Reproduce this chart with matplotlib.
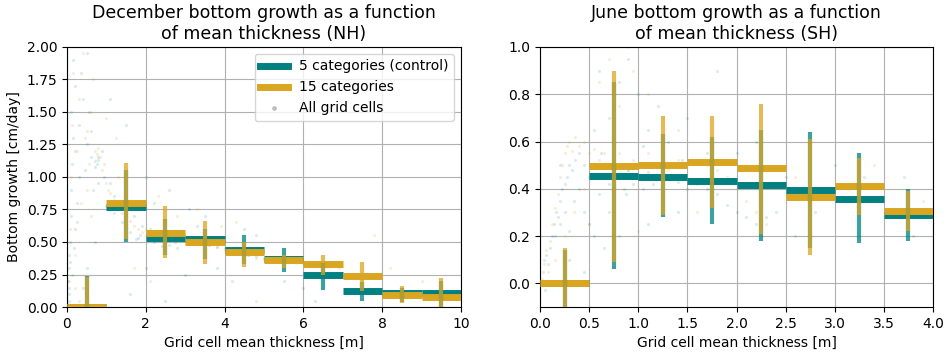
import matplotlib.pyplot as plt
from matplotlib.lines import Line2D

# --- Bin edges (x) for each hemisphere
nh_edges = [0, 1, 2, 3, 4, 5, 6, 7, 8, 9, 10]
sh_edges = [0, 0.5, 1.0, 1.5, 2.0, 2.5, 3.0, 3.5, 4.0]

# --- NH (December): bin means and error ranges
nh_ctrl_mean = [0.00, 0.77, 0.53, 0.52, 0.44, 0.37, 0.25, 0.12, 0.11, 0.11]
nh_ctrl_lo   = [0.00, 0.50, 0.40, 0.37, 0.33, 0.27, 0.13, 0.05, 0.04, 0.00]
nh_ctrl_hi   = [0.24, 1.05, 0.68, 0.60, 0.55, 0.45, 0.34, 0.19, 0.15, 0.20]
nh_c15_mean  = [0.00, 0.80, 0.57, 0.50, 0.42, 0.36, 0.33, 0.24, 0.09, 0.08]
nh_c15_lo    = [0.00, 0.52, 0.38, 0.33, 0.31, 0.30, 0.25, 0.12, 0.03, 0.00]
nh_c15_hi    = [0.23, 1.11, 0.78, 0.66, 0.50, 0.40, 0.40, 0.35, 0.16, 0.22]

# --- SH (June): bin means and error ranges
sh_ctrl_mean = [0.00, 0.455, 0.45, 0.435, 0.415, 0.395, 0.355, 0.29]
sh_ctrl_lo   = [-0.10, 0.06, 0.28, 0.25, 0.18, 0.15, 0.17, 0.18]
sh_ctrl_hi   = [0.14, 0.85, 0.63, 0.62, 0.65, 0.64, 0.55, 0.40]
sh_c15_mean  = [0.00, 0.495, 0.50, 0.515, 0.49, 0.365, 0.41, 0.305]
sh_c15_lo    = [-0.10, 0.09, 0.29, 0.32, 0.21, 0.12, 0.29, 0.22]
sh_c15_hi    = [0.15, 0.90, 0.71, 0.71, 0.76, 0.61, 0.53, 0.39]

# --- grid cell clouds
nh_ctrl_x = [0.05, 0.05, 0.08, 0.1, 0.1, 0.12, 0.15, 0.1, 0.2, 0.15, 0.05, 0.03, 0.06, 0.2, 0.25,
             0.3, 0.2, 0.3, 0.4, 0.35, 0.5, 0.5, 0.45, 0.6, 0.7, 0.75, 0.8, 0.72, 0.78, 0.9,
             0.6, 0.55, 0.65, 0.8, 0.95, 1.1, 1.2, 1.3, 1.0, 1.2, 1.4, 1.6, 1.8, 1.5, 1.7,
             1.9, 2.1, 2.3, 2.5, 2.7, 2.9, 2.2, 2.4, 2.6, 2.8, 3.0, 3.2, 3.4, 3.6, 3.8,
             4.0, 4.2, 4.4, 4.6, 4.8, 5.0, 5.2, 5.4, 2.2, 2.6, 3.1, 3.5, 1.5, 1.1, 2.0,
             3.0, 4.2, 1.6, 2.5, 4.5, 6.0, 6.3, 0.5, 0.4, 0.7, 3.8, 5.5, 4.8, 3.3, 2.0,
             7.5, 9.5, 0.02, 0.04, 0.08, 0.12, 0.18, 0.25, 1.75, 1.85, 2.15, 2.35, 2.75, 3.15]
nh_ctrl_y = [0.1, 0.3, 0.5, 0.7, 0.9, 1.1, 1.3, 1.5, 1.7, 1.9, 0.05, 0.2, 0.4, 0.6, 0.8,
             1.0, 1.2, 1.4, 1.6, 1.8, 1.95, 1.25, 1.05, 1.15, 1.12, 1.1, 1.15, 1.08, 1.13, 1.2,
             1.35, 1.5, 0.9, 0.95, 1.0, 0.95, 0.85, 0.8, 0.78, 0.72, 0.65, 0.58, 0.53, 0.75, 0.7,
             0.62, 0.6, 0.57, 0.55, 0.54, 0.52, 0.5, 0.47, 0.48, 0.45, 0.53, 0.5, 0.5, 0.48, 0.46,
             0.45, 0.43, 0.42, 0.4, 0.39, 0.38, 0.36, 0.35, 0.8, 0.9, 0.75, 0.7, 1.4, 1.6, 0.3,
             0.25, 0.2, 0.1, 0.05, 0.6, 0.15, 0.05, 0.3, 0.15, 0.5, 0.3, 0.2, 0.55, 0.62, 1.0,
             0.2, 0.1, 0.02, 0.15, 0.35, 0.25, 0.45, 0.65, 0.52, 0.55, 0.58, 0.52, 0.5, 0.5]
nh_c15_x = [0.05, 0.08, 0.1, 0.12, 0.15, 0.2, 0.25, 0.3, 0.35, 0.4, 0.45, 0.5, 0.5, 0.55, 0.6,
            0.7, 0.75, 0.8, 0.85, 0.9, 0.95, 1.0, 1.05, 1.1, 1.2, 1.3, 1.4, 1.5, 1.6, 1.7,
            1.8, 1.9, 2.0, 2.2, 2.4, 2.6, 2.8, 3.0, 3.2, 3.4, 3.6, 3.8, 4.0, 4.2, 4.4,
            4.6, 4.8, 5.0, 5.2, 5.4, 5.6, 5.8, 6.0, 6.3, 6.6, 6.9, 2.3, 2.8, 3.3, 1.3,
            1.0, 0.6, 7.8, 8.2, 8.5, 4.8, 9.0, 3.9, 2.1, 1.7, 0.3, 0.2, 0.65, 1.25, 4.3]
nh_c15_y = [0.2, 0.6, 1.0, 1.4, 1.8, 0.4, 1.2, 1.6, 0.8, 1.95, 1.3, 1.35, 0.9, 1.1, 1.5,
            1.2, 1.18, 1.22, 1.15, 1.05, 1.1, 0.95, 0.9, 0.88, 0.82, 0.78, 0.72, 0.7, 0.66, 0.62,
            0.6, 0.58, 0.6, 0.58, 0.56, 0.55, 0.53, 0.52, 0.5, 0.49, 0.48, 0.46, 0.44, 0.42, 0.41,
            0.4, 0.38, 0.37, 0.36, 0.36, 0.35, 0.34, 0.33, 0.32, 0.31, 0.3, 0.85, 0.7, 0.75, 1.0,
            1.45, 0.7, 0.55, 0.3, 0.05, 0.05, 0.2, 0.62, 0.2, 0.3, 0.05, 0.15, 1.75, 1.3, 0.65]

sh_ctrl_x = [0.02, 0.03, 0.04, 0.05, 0.06, 0.08, 0.1, 0.12, 0.14, 0.16, 0.18, 0.2, 0.22, 0.25, 0.28,
             0.3, 0.33, 0.36, 0.4, 0.45, 0.5, 0.15, 0.2, 0.25, 0.3, 0.35, 0.4, 0.45, 0.5, 0.55,
             0.6, 0.65, 0.7, 0.75, 0.8, 0.85, 0.9, 0.95, 1.0, 1.05, 1.1, 1.15, 1.2, 1.3, 1.4,
             1.5, 1.6, 1.7, 1.8, 1.9, 2.0, 2.1, 2.2, 2.3, 2.4, 0.7, 0.8, 0.9, 1.0, 1.1,
             1.2, 1.3, 1.5, 1.7, 0.6, 0.55, 0.7, 0.8, 0.65, 1.1, 1.4, 2.0, 2.5, 2.8, 3.0,
             3.3, 3.6, 3.8, 2.6, 3.7, 1.8, 2.2, 0.3, 0.45, 0.2, 0.62, 0.88, 1.25, 1.45, 1.05]
sh_ctrl_y = [0.0, 0.05, 0.1, -0.03, 0.12, 0.08, 0.15, 0.2, 0.25, 0.3, 0.28, 0.35, 0.4, 0.42, 0.45,
             0.5, 0.48, 0.52, 0.55, 0.5, 0.45, 0.2, 0.25, 0.3, 0.22, 0.35, 0.4, 0.3, 0.25, 0.2,
             0.38, 0.45, 0.42, 0.5, 0.45, 0.4, 0.48, 0.42, 0.45, 0.4, 0.47, 0.42, 0.44, 0.46, 0.43,
             0.4, 0.42, 0.4, 0.38, 0.33, 0.3, 0.28, 0.25, 0.28, 0.3, 0.7, 0.85, 0.95, 0.8, 0.65,
             0.75, 0.6, 0.7, 0.55, 0.9, 0.65, 0.3, 0.2, 0.15, 0.25, 0.3, 0.55, 0.45, 0.3, 0.5,
             0.45, 0.3, 0.2, 0.2, 0.45, 0.9, 0.6, 0.1, 0.05, 0.5, 0.55, 0.38, 0.5, 0.52, 0.58]
sh_c15_x = [0.02, 0.04, 0.06, 0.08, 0.1, 0.12, 0.15, 0.18, 0.2, 0.22, 0.25, 0.28, 0.3, 0.33, 0.36,
            0.4, 0.45, 0.5, 0.55, 0.6, 0.65, 0.7, 0.75, 0.8, 0.85, 0.9, 0.95, 1.0, 1.1, 1.2,
            1.3, 1.4, 1.5, 1.6, 1.7, 1.8, 1.9, 2.0, 2.1, 2.2, 0.6, 0.7, 0.8, 0.95, 1.1,
            1.25, 1.4, 0.35, 0.25, 0.5, 0.75, 1.0, 1.6, 2.3, 2.6, 0.9, 0.15, 0.45, 3.4, 3.9]
sh_c15_y = [0.02, 0.08, 0.14, 0.05, 0.18, 0.25, 0.32, 0.38, 0.45, 0.5, 0.55, 0.58, 0.6, 0.56, 0.62,
            0.58, 0.6, 0.55, 0.57, 0.52, 0.55, 0.5, 0.52, 0.55, 0.5, 0.48, 0.52, 0.5, 0.55, 0.5,
            0.48, 0.52, 0.5, 0.52, 0.5, 0.48, 0.45, 0.4, 0.35, 0.3, 0.85, 0.95, 0.75, 0.9, 0.8,
            0.7, 0.65, 0.3, 0.2, 0.25, 0.3, 0.22, 0.3, 0.25, 0.45, 1.0, 0.1, 0.4, 0.5, 0.35]

ctrl_col = 'teal'
c15_col = 'goldenrod'


def draw_bins(ax, edges, mean, lo, hi, color):
    left = edges[:-1]
    right = edges[1:]
    mid = [(a + b) / 2 for a, b in zip(left, right)]
    ax.hlines(mean, left, right, colors=color, lw=5, zorder=3)
    ax.vlines(mid, lo, hi, colors=color, lw=3, alpha=0.75, zorder=4)


fig = plt.figure(figsize=(9.46, 3.53), dpi=100)
ax1 = fig.add_axes([0.0708, 0.1303, 0.4165, 0.7366])
ax2 = fig.add_axes([0.5708, 0.1303, 0.4155, 0.7366])

for ax in (ax1, ax2):
    ax.grid(True, color='#b0b0b0', lw=0.8)
    ax.set_axisbelow(True)

# NH
ax1.scatter(nh_ctrl_x, nh_ctrl_y, s=5, color=ctrl_col, alpha=0.15, lw=0, zorder=2)
ax1.scatter(nh_c15_x, nh_c15_y, s=5, color=c15_col, alpha=0.18, lw=0, zorder=2)
draw_bins(ax1, nh_edges, nh_ctrl_mean, nh_ctrl_lo, nh_ctrl_hi, ctrl_col)
draw_bins(ax1, nh_edges, nh_c15_mean, nh_c15_lo, nh_c15_hi, c15_col)
ax1.set_xlim(0, 10)
ax1.set_ylim(0, 2)
ax1.set_yticks([0, 0.25, 0.5, 0.75, 1.0, 1.25, 1.5, 1.75, 2.0])
ax1.set_xlabel('Grid cell mean thickness [m]')
ax1.set_ylabel('Bottom growth [cm/day]')
ax1.set_title('December bottom growth as a function\nof mean thickness (NH)', fontsize=12.5)

handles = [Line2D([], [], color=ctrl_col, lw=5),
           Line2D([], [], color=c15_col, lw=5),
           Line2D([], [], color='gray', marker='o', ls='', ms=2.5, alpha=0.4)]
ax1.legend(handles, ['5 categories (control)', '15 categories', 'All grid cells'],
           loc='upper right', fontsize=10)

# SH
ax2.scatter(sh_ctrl_x, sh_ctrl_y, s=5, color=ctrl_col, alpha=0.15, lw=0, zorder=2)
ax2.scatter(sh_c15_x, sh_c15_y, s=5, color=c15_col, alpha=0.18, lw=0, zorder=2)
draw_bins(ax2, sh_edges, sh_ctrl_mean, sh_ctrl_lo, sh_ctrl_hi, ctrl_col)
draw_bins(ax2, sh_edges, sh_c15_mean, sh_c15_lo, sh_c15_hi, c15_col)
ax2.set_xlim(0, 4)
ax2.set_ylim(-0.1, 1.0)
ax2.set_xlabel('Grid cell mean thickness [m]')
ax2.set_title('June bottom growth as a function\nof mean thickness (SH)', fontsize=12.5)

fig.savefig('out.png', dpi=100)
